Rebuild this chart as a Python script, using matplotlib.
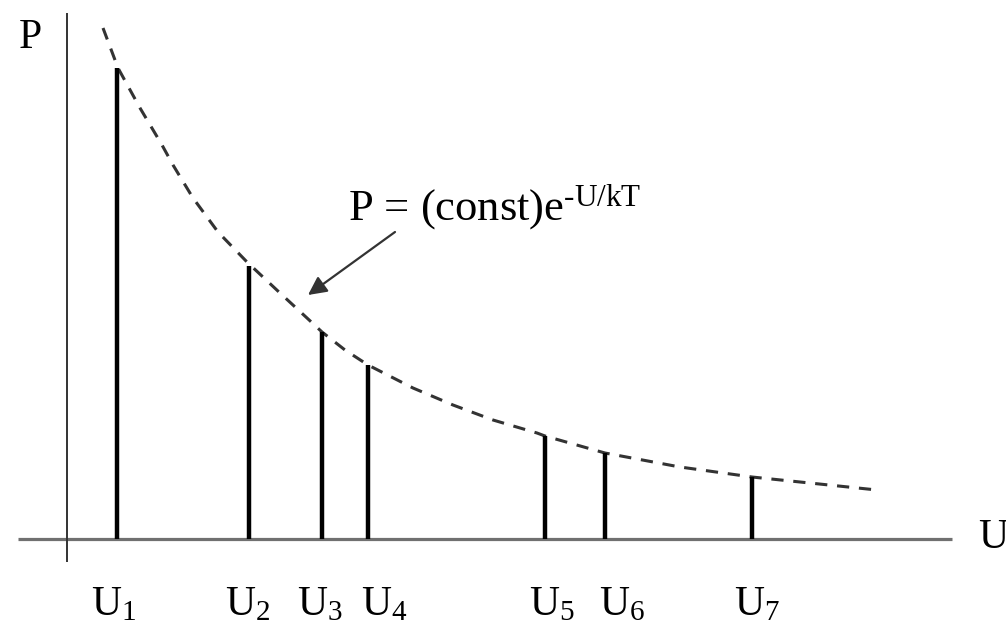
import matplotlib
matplotlib.use("Agg")
import matplotlib.pyplot as plt

plt.rcParams['font.family'] = ['Liberation Serif', 'DejaVu Serif']
plt.rcParams['mathtext.fontset'] = 'custom'
plt.rcParams['mathtext.rm'] = 'Liberation Serif'
plt.rcParams['mathtext.it'] = 'Liberation Serif:italic'

# energy levels and their populations (schematic units)
levels = ['U$_{\\mathrm{1}}$', 'U$_{\\mathrm{2}}$', 'U$_{\\mathrm{3}}$', 'U$_{\\mathrm{4}}$',
          'U$_{\\mathrm{5}}$', 'U$_{\\mathrm{6}}$', 'U$_{\\mathrm{7}}$']
u_pos = [50, 182, 255, 301, 478, 538, 685]
p_val = [471, 273, 207, 174, 103, 86, 62]
# labels sit a bit off the bars in the original drawing
label_pos = [47, 181, 253, 317, 485, 555, 690]

# dashed envelope P = (const) e^(-U/kT)
curve_u = [36, 51, 73, 95, 106, 126, 151, 180, 213, 240, 255, 278, 301, 346,
           386, 426, 470, 478, 538, 613, 685, 810]
curve_p = [511, 471, 431, 394, 374, 341, 307, 277, 246, 221, 207, 189, 174, 151,
           134, 119, 106, 103, 86, 72, 62, 49]

fig = plt.figure(figsize=(10.06, 6.23), dpi=100)
ax = fig.add_axes([0, 0, 1, 1])
ax.set_xlim(-67, 939)
ax.set_ylim(-84, 539)
ax.axis('off')

# axes lines
ax.plot([-49, 885], [0, 0], color='#707070', lw=2.3, solid_capstyle='butt', zorder=1)
ax.plot([0, 0], [-23, 526], color='#333333', lw=1.4, solid_capstyle='butt', zorder=1)

# curve
ax.plot(curve_u, curve_p, color='#333333', lw=2.2, dashes=(4, 3.2), zorder=2)

# bars
ax.vlines(u_pos, 0, p_val, color='black', lw=3.2, zorder=3)

for x, lab in zip(label_pos, levels):
    ax.text(x, -76, lab, ha='center', va='baseline', fontsize=30)

ax.text(-37, 501, 'P', ha='center', va='center', fontsize=30)
ax.text(926, 1, 'U', ha='center', va='center', fontsize=30)

ax.annotate('', xy=(241, 244), xytext=(328, 307),
            arrowprops=dict(arrowstyle='-|>', color='#333333', lw=1.6,
                            mutation_scale=28, shrinkA=0, shrinkB=0))
ax.text(281, 319, 'P = (const)e$^{\\mathrm{\u2010U/kT}}$', ha='left', va='baseline',
        fontsize=32)

fig.savefig('out.png', dpi=100)
